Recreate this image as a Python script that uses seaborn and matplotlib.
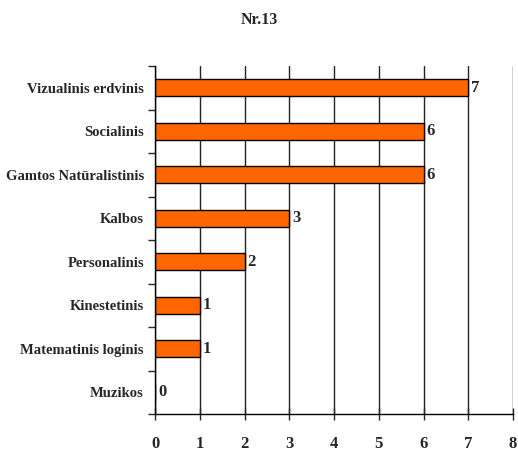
import numpy as np
import pandas as pd
import matplotlib.pyplot as plt
import seaborn as sns

categories = ["Vizualinis erdvinis", "Socialinis", "Gamtos Natūralistinis", "Kalbos",
              "Personalinis", "Kinestetinis", "Matematinis loginis", "Muzikos"]
values = [7, 6, 6, 3, 2, 1, 1, 0]
df = pd.DataFrame({"cat": categories, "val": values})

sns.set_style("white")
plt.rcParams["font.family"] = ["Liberation Serif", "DejaVu Serif"]
plt.rcParams["font.weight"] = "bold"

fig = plt.figure(figsize=(5.18, 4.54), dpi=100)
ax = fig.add_axes([155 / 518, 1 - 414 / 454, 358 / 518, 348 / 454])

sns.barplot(data=df, x="val", y="cat", orient="h", color="#FF6600",
            edgecolor="black", linewidth=1, width=0.4, saturation=1, ax=ax)

ax.set_xlim(0, 8)
ax.set_ylim(7.5, -0.5)
ax.set_xticks(range(0, 9))
ax.set_xlabel("")
ax.set_ylabel("")
ax.grid(axis="x", color="#222222", linewidth=1)
ax.set_axisbelow(True)
for s in ["top", "right"]:
    ax.spines[s].set_visible(False)
for s in ["left", "bottom"]:
    ax.spines[s].set_color("black")
    ax.spines[s].set_linewidth(1)

# y ticks at category boundaries, labels centered
ax.set_yticks(np.arange(-0.5, 8, 1), minor=False)
ax.set_yticklabels([])
ax.set_yticks(range(len(categories)), minor=True)
ax.set_yticklabels(categories, minor=True, fontsize=10.5, fontweight="bold")
ax.tick_params(axis="y", which="major", direction="out", length=5, width=1, left=True)
ax.tick_params(axis="y", which="minor", length=0, pad=8)
ax.tick_params(axis="x", direction="inout", length=8, width=1, bottom=True, pad=12,
               labelsize=12)
for lbl in ax.get_xticklabels():
    lbl.set_fontweight("bold")

for i, v in enumerate(values):
    ax.text(v + 0.07, i, str(v), va="center", ha="left", fontsize=12, fontweight="bold")

fig.text(0.5, 1 - 20 / 454, "Nr.13", ha="center", va="center", fontsize=11.5, fontweight="bold")

fig.savefig("out.png", dpi=100)
plt.close(fig)
